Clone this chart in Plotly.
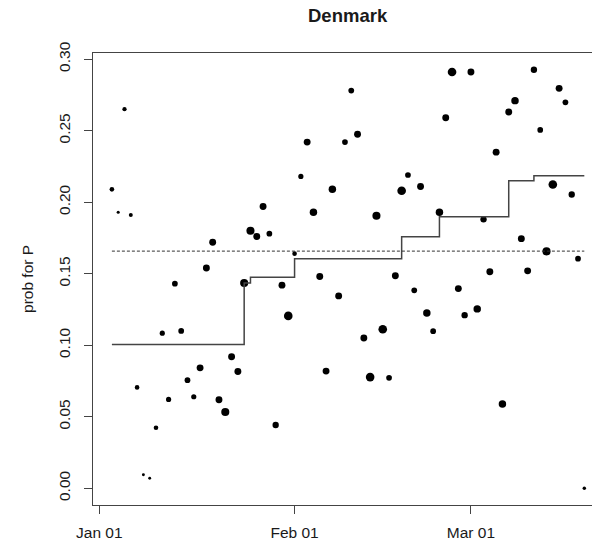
import pandas as pd
import plotly.graph_objects as go

# Daily estimates, 3 Jan - 19 Mar
dates = pd.date_range("2021-01-03", "2021-03-19", freq="D")
prob = [
    0.209, 0.193, 0.265, 0.191, 0.0705, 0.0095, 0.007, 0.0423, 0.1084, 0.0621,
    0.143, 0.110, 0.0756, 0.064, 0.0842, 0.154, 0.172, 0.0619, 0.0533, 0.0919,
    0.0816, 0.1435, 0.180, 0.176, 0.197, 0.178, 0.0442, 0.142, 0.1205, 0.164,
    0.218, 0.242, 0.193, 0.148, 0.0819, 0.209, 0.1345, 0.242, 0.278, 0.2475,
    0.1051, 0.0777, 0.1905, 0.1112, 0.0772, 0.1486, 0.208, 0.219, 0.1384, 0.211,
    0.1226, 0.1098, 0.193, 0.259, 0.291, 0.1396, 0.121, 0.291, 0.1254, 0.188,
    0.1514, 0.235, 0.0589, 0.263, 0.271, 0.1745, 0.152, 0.2926, 0.2505, 0.1656,
    0.2124, 0.2796, 0.2698, 0.2054, 0.1605, 0.0,
]
# relative weight of each daily estimate (drives point size)
weight = [
    0.67, 0.45, 0.62, 0.58, 0.67, 0.42, 0.42, 0.67, 0.75, 0.75,
    0.83, 0.83, 0.83, 0.75, 1.00, 1.00, 1.00, 1.00, 1.17, 1.00,
    1.00, 1.17, 1.17, 1.00, 1.00, 0.83, 0.92, 1.00, 1.25, 0.67,
    0.75, 1.00, 1.08, 1.00, 1.00, 1.08, 1.00, 0.83, 0.83, 1.00,
    1.00, 1.25, 1.17, 1.25, 0.83, 1.00, 1.25, 0.83, 0.83, 1.00,
    1.08, 0.83, 1.08, 1.00, 1.25, 1.00, 0.92, 1.00, 1.08, 0.92,
    1.00, 1.00, 1.08, 1.00, 1.08, 1.00, 1.00, 0.92, 0.83, 1.17,
    1.25, 1.00, 0.83, 0.92, 0.83, 0.50,
]

# Period estimate (step function) and overall reference level
step_dates = ["2021-01-03", "2021-01-24", "2021-01-25", "2021-02-01", "2021-02-18",
              "2021-02-24", "2021-03-07", "2021-03-11", "2021-03-19"]
step_vals = [0.1005, 0.1435, 0.1475, 0.1605, 0.1758, 0.1898, 0.215, 0.2184, 0.2184]
ref_level = 0.1658

x_ticks = ["2021-01-01", "2021-02-01", "2021-03-01"]
x_ticktext = ["Jan 01", "Feb 01", "Mar 01"]
y_ticks = [0.00, 0.05, 0.10, 0.15, 0.20, 0.25, 0.30]
y_ticktext = ["0.00", "0.05", "0.10", "0.15", "0.20", "0.25", "0.30"]

FONT = "Liberation Sans, Arial, Helvetica, sans-serif"
INK = "#1a1a1a"

fig = go.Figure()

fig.add_trace(go.Scatter(
    x=dates, y=prob, mode="markers",
    marker=dict(color="black", opacity=1, size=[6.9 * w for w in weight],
                line=dict(width=0)),
    showlegend=False, hoverinfo="x+y",
))

fig.add_trace(go.Scatter(
    x=step_dates, y=step_vals, mode="lines",
    line=dict(color="#444444", width=1.5, shape="hv"),
    showlegend=False, hoverinfo="skip",
))

fig.add_trace(go.Scatter(
    x=[dates[0], dates[-1]], y=[ref_level, ref_level], mode="lines",
    line=dict(color="#333333", width=1, dash="3px,2px"),
    showlegend=False, hoverinfo="skip",
))

origin = pd.Timestamp("2021-01-01")
x_lo = origin + pd.Timedelta(days=-1.0)
x_hi = origin + pd.Timedelta(days=78.22)

axis_common = dict(
    showgrid=False, zeroline=False, showline=True, linecolor="#444444", linewidth=1,
    ticks="outside", ticklen=8, tickwidth=1, tickcolor="#444444",
    tickfont=dict(family=FONT, size=15.5, color=INK),
)

fig.update_layout(
    width=592, height=544,
    margin=dict(l=93, r=0, t=53, b=39),
    paper_bgcolor="white", plot_bgcolor="white",
    xaxis=dict(type="date", range=[x_lo, x_hi], tickvals=x_ticks, ticktext=x_ticktext,
               mirror=True, ticklabelstandoff=5, **axis_common),
    yaxis=dict(range=[-0.0117, 0.3043], tickvals=y_ticks, ticktext=y_ticktext,
               tickangle=-90, mirror=False, ticklabelstandoff=8, **axis_common),
    annotations=[
        dict(text="<b>Denmark</b>", x=0.511, y=1.0819, xref="paper", yref="paper",
             xanchor="center", yanchor="middle", showarrow=False,
             font=dict(family=FONT, size=18.5, color=INK)),
        dict(text="prob for P", x=-0.1323, y=0.5, xref="paper", yref="paper",
             xanchor="center", yanchor="middle", textangle=-90, showarrow=False,
             font=dict(family=FONT, size=15.5, color=INK)),
    ],
)

fig.write_html("out.html")
